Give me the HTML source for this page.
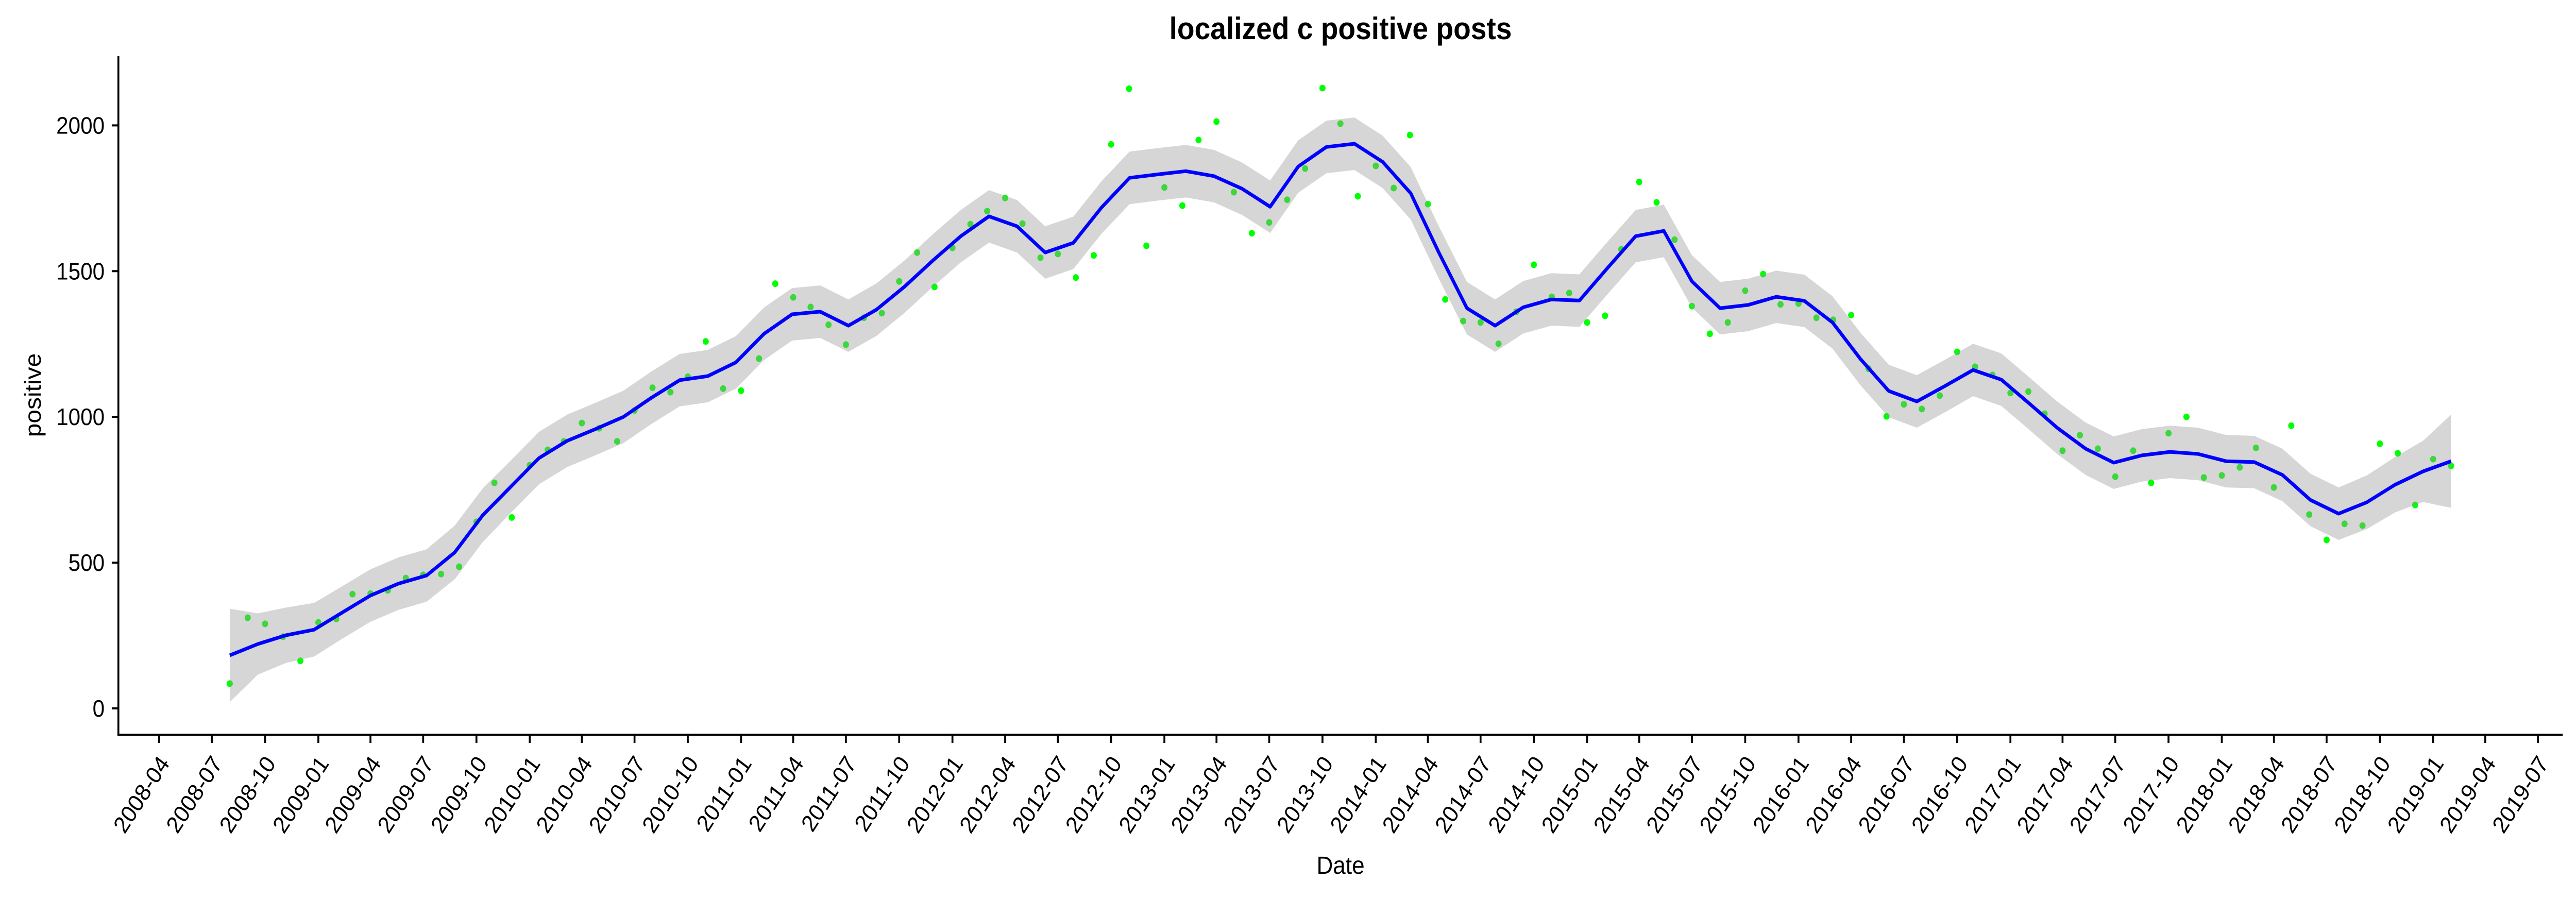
<!DOCTYPE html>
<html><head><meta charset="utf-8">
<style>
html,body{margin:0;padding:0;background:#fff;width:100%;height:100%;overflow:hidden;}
svg{display:block;position:absolute;left:0;top:0;width:100vw;height:100vh;font-family:"Liberation Sans",Arial,sans-serif;}
</style></head>
<body>
<svg id="chart" viewBox="0 0 5440 1743" preserveAspectRatio="none" xmlns="http://www.w3.org/2000/svg" overflow="hidden">
<rect x="0" y="0" width="5440" height="1743" fill="#fff"/>
<text x="2831" y="76" text-anchor="middle" font-size="60" font-weight="bold">localized c positive posts</text>
<g id="points"></g>
<path id="band" fill="#999999" fill-opacity="0.4" stroke="none"/>
<path id="line" fill="none" stroke="#0000ff" stroke-width="7" stroke-linejoin="round"/>
<g id="yaxis"></g>
<g id="xaxis"></g>
<text x="2831" y="1696" text-anchor="middle" font-size="48">Date</text>
<text transform="translate(86,767) rotate(-90)" text-anchor="middle" font-size="48">positive</text>
</svg>
<script>
// monthly observations, 2008-08 .. 2019-02
const startMonth = [2008, 8];
const positiveValues = [
 85,311,290,246,163,
 295,307,392,394,405,447,458,461,486,640,774,655,
 834,887,916,979,961,916,1022,1100,1085,1138,1259,1097,
 1090,1200,1457,1410,1377,1316,1248,1340,1356,1465,1564,1446,
 1580,1661,1706,1751,1663,1546,1559,1478,1554,1935,2126,1587,
 1787,1725,1950,2013,1771,1630,1667,1745,1852,2128,2006,1757,
 1861,1785,1967,1730,1403,1329,1324,1251,1361,1522,1412,1425,
 1324,1347,1575,1806,1736,1608,1380,1285,1324,1433,1490,1386,
 1389,1340,1333,1349,1165,1002,1043,1027,1073,1223,1172,1144,
 1082,1087,1011,884,937,891,795,884,774,944,1000,792,
 799,827,894,758,970,665,578,633,627,908,875,698,
 855,832
];
// loess fit evaluated at 80 evenly spaced dates between first and last obs
const smoothValues = [
 182,221,251,270,329,387,428,456,535,663,761,859,918,958,1000,1066,1126,1140,1187,1285,
 1352,1361,1313,1368,1447,1536,1620,1688,1654,1564,1597,1718,1820,1832,1843,1826,1783,1721,1859,1926,
 1937,1875,1767,1564,1373,1313,1376,1403,1399,1511,1620,1638,1465,1373,1384,1412,1398,1324,1198,1089,
 1053,1106,1161,1128,1046,962,891,843,868,880,873,848,845,801,715,668,707,767,813,848
];
const bandHalfWidth = [160,105,95,92,90,90,90,90,92,92,90,90,90,90,90,90,90,90,90,90,
 90,90,90,90,90,90,90,90,90,90,90,90,90,90,90,90,90,90,90,90,
 90,90,90,90,90,90,90,90,90,90,90,90,90,90,90,90,90,90,90,90,
 90,90,90,90,90,90,90,90,90,90,90,90,90,90,90,90,92,95,105,160];
const yTicks = [0,500,1000,1500,2000];
const xTickLabels = ["2008-04","2008-07","2008-10","2009-01","2009-04","2009-07","2009-10","2010-01","2010-04","2010-07","2010-10","2011-01","2011-04","2011-07","2011-10","2012-01","2012-04","2012-07","2012-10","2013-01","2013-04","2013-07","2013-10","2014-01","2014-04","2014-07","2014-10","2015-01","2015-04","2015-07","2015-10","2016-01","2016-04","2016-07","2016-10","2017-01","2017-04","2017-07","2017-10","2018-01","2018-04","2018-07","2018-10","2019-01","2019-04","2019-07"];

const NS = "http://www.w3.org/2000/svg";
const DAY = 86400000;
const T0 = Date.UTC(2008,3,1);
function xScale(t){ return 336 + (t - T0)/DAY*1.2229; }
function yScale(v){ return 1375 - v*0.5658; }
function parseYM(s){ const p=s.split("-"); return Date.UTC(+p[0], +p[1]-1, 1); }
function monthDate(i){ return Date.UTC(startMonth[0], startMonth[1]-1+i, 1); }

const pg = document.getElementById("points");
positiveValues.forEach((v,i)=>{
  const c = document.createElementNS(NS,"circle");
  c.setAttribute("cx", xScale(monthDate(i)).toFixed(1));
  c.setAttribute("cy", yScale(v).toFixed(1));
  c.setAttribute("r", 6.5);
  c.setAttribute("fill", "#00ff00");
  
  
  pg.appendChild(c);
});

const tStart = monthDate(0), tEnd = monthDate(positiveValues.length-1);
const n = smoothValues.length;
const sx = smoothValues.map((v,k)=> xScale(tStart + (tEnd-tStart)*k/(n-1)));
let d = "";
smoothValues.forEach((v,k)=>{ d += (k?"L":"M") + sx[k].toFixed(1) + "," + yScale(v).toFixed(1); });
document.getElementById("line").setAttribute("d", d);
let b = "";
smoothValues.forEach((v,k)=>{ b += (k?"L":"M") + sx[k].toFixed(1) + "," + yScale(v+bandHalfWidth[k]).toFixed(1); });
for (let k=n-1;k>=0;k--){ b += "L" + sx[k].toFixed(1) + "," + yScale(smoothValues[k]-bandHalfWidth[k]).toFixed(1); }
document.getElementById("band").setAttribute("d", b + "Z");

const ya = document.getElementById("yaxis");
const yl = document.createElementNS(NS,"line");
yl.setAttribute("x1",250); yl.setAttribute("x2",250); yl.setAttribute("y1",109); yl.setAttribute("y2",1428);
yl.setAttribute("stroke","#000"); yl.setAttribute("stroke-width",4);


ya.appendChild(yl);
yTicks.forEach(v=>{
  const y = yScale(v);
  const t = document.createElementNS(NS,"line");
  t.setAttribute("x1",236); t.setAttribute("x2",250); t.setAttribute("y1",y); t.setAttribute("y2",y);
  t.setAttribute("stroke","#000"); t.setAttribute("stroke-width",4);
  
  
  ya.appendChild(t);
  const tx = document.createElementNS(NS,"text");
  tx.setAttribute("x",221); tx.setAttribute("y",y+16);
  tx.setAttribute("text-anchor","end"); tx.setAttribute("font-size",46);
  tx.textContent = v;
  
  
  ya.appendChild(tx);
});

const xa = document.getElementById("xaxis");
const xl = document.createElementNS(NS,"line");
xl.setAttribute("x1",248); xl.setAttribute("x2",5412); xl.setAttribute("y1",1426); xl.setAttribute("y2",1426);
xl.setAttribute("stroke","#000"); xl.setAttribute("stroke-width",4);


xa.appendChild(xl);
xTickLabels.forEach(s=>{
  const x = xScale(parseYM(s));
  const t = document.createElementNS(NS,"line");
  t.setAttribute("x1",x); t.setAttribute("x2",x); t.setAttribute("y1",1426); t.setAttribute("y2",1442);
  t.setAttribute("stroke","#000"); t.setAttribute("stroke-width",4);
  
  
  xa.appendChild(t);
  const tx = document.createElementNS(NS,"text");
  tx.setAttribute("transform","translate("+(x+24).toFixed(1)+",1482) rotate(-55)");
  tx.setAttribute("text-anchor","end"); tx.setAttribute("font-size",46);
  tx.textContent = s;
  
  
  xa.appendChild(tx);
});
</script>
</body></html>
